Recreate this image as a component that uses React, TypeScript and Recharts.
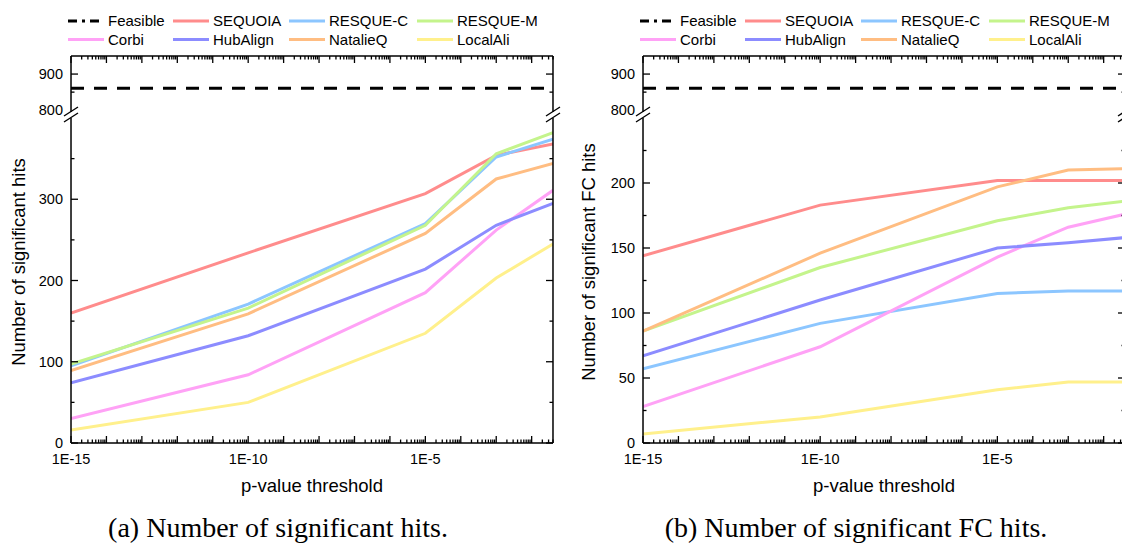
import React from 'react';
import { LineChart, Line, XAxis, YAxis, Legend } from 'recharts';

// x positions of the measurements (p-value thresholds)
const P_VALUES = [1e-15, 1e-10, 1e-5, 1e-3, 0.04];
const X_LABEL_TICKS = [1e-15, 1e-10, 1e-5];

const SERIES_NAMES = ['SEQUOIA', 'RESQUE-C', 'RESQUE-M', 'Corbi', 'HubAlign', 'NatalieQ', 'LocalAli'];
const SERIES_COLORS = ['#ff8c8c', '#8cc6ff', '#c4f48c', '#ffa2f6', '#8c8cff', '#ffbd82', '#fff08c'];

// number of feasible pairs (dashed line in the top segment)
const FEASIBLE = [861, 861, 861, 861, 861];

// (a) number of significant hits
const HITS_SEQUOIA = [160, 234, 307, 354, 368];
const HITS_RESQUE_C = [95, 171, 270, 352, 374];
const HITS_RESQUE_M = [97, 166, 268, 356, 382];
const HITS_CORBI = [30, 84, 185, 262, 311];
const HITS_HUBALIGN = [74, 132, 214, 268, 295];
const HITS_NATALIEQ = [89, 159, 258, 325, 344];
const HITS_LOCALALI = [16, 50, 135, 203, 245];

// (b) number of significant FC hits
const FC_SEQUOIA = [144, 183, 202, 202, 202];
const FC_RESQUE_C = [57, 92, 115, 117, 117];
const FC_RESQUE_M = [86, 135, 171, 181, 186];
const FC_CORBI = [28, 74, 143, 166, 176];
const FC_HUBALIGN = [67, 110, 150, 154, 158];
const FC_NATALIEQ = [86, 146, 197, 210, 211];
const FC_LOCALALI = [7, 20, 41, 47, 47];

const HITS_TICKS = [0, 100, 200, 300];
const HITS_MINOR = [50, 150, 250, 350];
const FC_TICKS = [0, 50, 100, 150, 200];
const FC_MINOR = [25, 75, 125, 175, 225];
const TOP_TICKS = [800, 900];
const TOP_MAJOR = [900];
const TOP_MINOR = [850];

const FONT = '"Liberation Sans", Arial, Helvetica, sans-serif';
const SERIF = '"Liberation Serif", "Times New Roman", serif';

// layout of one sub-figure
const PANEL_W = 572;
const PLOT_L = 71;
const PLOT_R = 553;
const TOP = 56;
const BREAK_TOP = 112;
const BREAK_BOTTOM = 118;
const BOTTOM = 443;
const X_MIN = 1e-15;
const X_MAX = 0.04;
const X_DOMAIN: [number, number] = [X_MIN, X_MAX];
const TOP_DOMAIN: [number, number] = [795, 950];
const THIN = 0.01; // axes need a non-zero size to be drawn
const MAJOR_LEN = 7;
const MINOR_LEN = 3.5;

// log ticks for the x axis: one per decade plus minor ticks
const X_ALL_TICKS: number[] = [];
for (let d = -15; d <= -2; d++) {
  for (let k = 1; k <= 9; k++) {
    const v = k * Math.pow(10, d);
    if (v < 0.0401) X_ALL_TICKS.push(v);
  }
}
const isDecade = (v: number) => Math.abs(Math.log10(v) - Math.round(Math.log10(v))) < 1e-6;

// pixel helpers for the inward tick marks (same frame as the chart margins)
const tickX = (v: number) => PLOT_L + (Math.log10(v / X_MIN) / Math.log10(X_MAX / X_MIN)) * (PLOT_R - PLOT_L);
const tickYTop = (v: number) => BREAK_TOP - ((v - TOP_DOMAIN[0]) / (TOP_DOMAIN[1] - TOP_DOMAIN[0])) * (BREAK_TOP - TOP);

const fmtP = (v: number) => v.toExponential().toUpperCase();
const noLabel = () => '';

const buildRows = (series: number[][]) =>
  P_VALUES.map((p, i) => {
    const row: Record<string, number> = { p, Feasible: FEASIBLE[i] };
    SERIES_NAMES.forEach((name, s) => {
      row[name] = series[s][i];
    });
    return row;
  });

const hitsData = buildRows([HITS_SEQUOIA, HITS_RESQUE_C, HITS_RESQUE_M, HITS_CORBI, HITS_HUBALIGN, HITS_NATALIEQ, HITS_LOCALALI]);
const fcData = buildRows([FC_SEQUOIA, FC_RESQUE_C, FC_RESQUE_M, FC_CORBI, FC_HUBALIGN, FC_NATALIEQ, FC_LOCALALI]);

const AXIS = { stroke: '#000', strokeWidth: 1.5 };
const TICK_TEXT = { fill: '#000', fontSize: 14.5, fontFamily: FONT };

const LEGEND_ITEMS = [
  { name: 'Feasible', color: '#000', dash: '9 5 3 5' },
  ...SERIES_NAMES.map((name, i) => ({ name, color: SERIES_COLORS[i], dash: undefined as string | undefined })),
];
const LEGEND_COLS = [68, 173, 289, 417];
const LEGEND_ROWS = [21, 39.5];

const LegendBlock = () => (
  <svg width={PANEL_W} height={52} style={{ display: 'block' }}>
    {LEGEND_ITEMS.map((item, i) => {
      const x = LEGEND_COLS[i % 4];
      const y = LEGEND_ROWS[Math.floor(i / 4)];
      return (
        <g key={item.name}>
          <line x1={x} x2={x + 36} y1={y} y2={y} stroke={item.color} strokeWidth={3} strokeDasharray={item.dash} />
          <text x={x + 40} y={y + 5.3} fontSize={15} fontFamily={FONT} fill="#000">
            {item.name}
          </text>
        </g>
      );
    })}
  </svg>
);

type PanelProps = {
  left: number;
  data: Record<string, number>[];
  lowerMax: number;
  lowerTicks: number[];
  lowerMinor: number[];
  yTitle: string;
  yTitleX: number;
  caption: string;
  captionX: number;
};

const Panel = ({ left, data, lowerMax, lowerTicks, lowerMinor, yTitle, yTitleX, caption, captionX }: PanelProps) => {
  const logAxis = {
    dataKey: 'p',
    type: 'number' as const,
    scale: 'log' as const,
    domain: X_DOMAIN,
    allowDataOverflow: true,
    interval: 0 as const,
    height: THIN,
  };
  const tickYLow = (v: number) => BOTTOM - (v / lowerMax) * (BOTTOM - BREAK_BOTTOM);

  // y tick marks on both sides: [pixel y, length]
  const yMarks: [number, number][] = [
    ...TOP_MAJOR.map((v) => [tickYTop(v), MAJOR_LEN] as [number, number]),
    ...TOP_MINOR.map((v) => [tickYTop(v), MINOR_LEN] as [number, number]),
    ...lowerTicks.map((v) => [tickYLow(v), MAJOR_LEN] as [number, number]),
    ...lowerMinor.map((v) => [tickYLow(v), MINOR_LEN] as [number, number]),
  ];

  const yTitleLabel = (props: any) => {
    const vb = props.viewBox || {};
    const x = yTitleX;
    const y = vb.y + vb.height / 2 - 18.5;
    return (
      <text x={x} y={y} transform={`rotate(-90, ${x}, ${y})`} textAnchor="middle" fontSize={18.5} fontFamily={FONT} fill="#000">
        {yTitle}
      </text>
    );
  };

  const xTitleLabel = (props: any) => {
    const vb = props.viewBox || {};
    return (
      <text x={vb.x + vb.width / 2} y={492} textAnchor="middle" fontSize={18.5} fontFamily={FONT} fill="#000">
        p-value threshold
      </text>
    );
  };

  return (
    <div style={{ position: 'absolute', left, top: 0, width: PANEL_W, height: 546 }}>
      {/* upper segment: feasible */}
      <div style={{ position: 'absolute', left: 0, top: 0 }}>
        <LineChart width={PANEL_W} height={124} data={data} margin={{ top: TOP, left: PLOT_L, right: PANEL_W - PLOT_R, bottom: 124 - BREAK_TOP }}>
          <XAxis xAxisId="top" orientation="top" {...logAxis} ticks={X_LABEL_TICKS} tickFormatter={noLabel} tickLine={false} axisLine={AXIS} />
          <YAxis yAxisId="y" type="number" domain={TOP_DOMAIN} allowDataOverflow width={THIN} ticks={TOP_TICKS} interval={0} tickLine={false} tick={TICK_TEXT} axisLine={AXIS} />
          <YAxis yAxisId="r" orientation="right" type="number" domain={TOP_DOMAIN} allowDataOverflow width={THIN} ticks={TOP_TICKS} tickFormatter={noLabel} tickLine={false} axisLine={AXIS} />
          <Line xAxisId="top" yAxisId="y" dataKey="Feasible" stroke="#000" strokeWidth={3} strokeDasharray="13 10" dot={false} isAnimationActive={false} />
          <Legend
            layout="horizontal"
            align="center"
            verticalAlign="middle"
            width={PANEL_W}
            height={52}
            wrapperStyle={{ left: 0, top: 0 }}
            content={() => <LegendBlock />}
          />
        </LineChart>
      </div>

      {/* lower segment: all methods */}
      <div style={{ position: 'absolute', left: 0, top: 0 }}>
        <LineChart width={PANEL_W} height={546} data={data} margin={{ top: BREAK_BOTTOM, left: PLOT_L, right: PANEL_W - PLOT_R, bottom: 546 - BOTTOM }}>
          <XAxis
            xAxisId="x"
            {...logAxis}
            ticks={X_LABEL_TICKS}
            tickFormatter={fmtP}
            tickLine={false}
            tickSize={6}
            tickMargin={5}
            tick={TICK_TEXT}
            axisLine={AXIS}
            label={xTitleLabel}
          />
          <YAxis
            yAxisId="y"
            type="number"
            domain={[0, lowerMax]}
            allowDataOverflow
            width={THIN}
            ticks={lowerTicks}
            interval={0}
            tickLine={false}
            tick={TICK_TEXT}
            axisLine={AXIS}
            label={yTitleLabel}
          />
          <YAxis yAxisId="r" orientation="right" type="number" domain={[0, lowerMax]} allowDataOverflow width={THIN} ticks={lowerTicks} tickFormatter={noLabel} tickLine={false} axisLine={AXIS} />
          {SERIES_NAMES.map((name, i) => (
            <Line
              key={name}
              xAxisId="x"
              yAxisId="y"
              dataKey={name}
              stroke={SERIES_COLORS[i]}
              strokeWidth={3}
              dot={false}
              isAnimationActive={false}
            />
          ))}
        </LineChart>
      </div>

      {/* inward tick marks, axis break marks and caption */}
      <svg width={PANEL_W} height={546} style={{ position: 'absolute', left: 0, top: 0, pointerEvents: 'none' }}>
        <g stroke="#000" strokeWidth={1.3}>
          {X_ALL_TICKS.map((v) => {
            const x = tickX(v);
            const len = isDecade(v) ? MAJOR_LEN : MINOR_LEN;
            return (
              <g key={`xt-${v}`}>
                <line x1={x} x2={x} y1={BOTTOM} y2={BOTTOM - len} />
                <line x1={x} x2={x} y1={TOP} y2={TOP + len} />
              </g>
            );
          })}
          {yMarks.map(([y, len], i) => (
            <g key={`yt-${i}`}>
              <line x1={PLOT_L} x2={PLOT_L + len} y1={y} y2={y} />
              <line x1={PLOT_R - len} x2={PLOT_R} y1={y} y2={y} />
            </g>
          ))}
        </g>
        {[PLOT_L, PLOT_R].map((ax) =>
          [BREAK_TOP - 0.5, BREAK_BOTTOM - 0.5].map((by) => (
            <line key={`${ax}-${by}`} x1={ax - 7} y1={by + 4.5} x2={ax + 7} y2={by - 4.5} stroke="#000" strokeWidth={1.4} />
          ))
        )}
        <text x={captionX} y={537} textAnchor="middle" fontSize={28} fontFamily={SERIF} fill="#000">
          {caption}
        </text>
      </svg>
    </div>
  );
};

const App = () => (
  <div style={{ position: 'absolute', left: 0, top: 0, width: 1122, height: 546, overflow: 'hidden', background: '#fff' }}>
    <Panel
      left={0}
      data={hitsData}
      lowerMax={400}
      lowerTicks={HITS_TICKS}
      lowerMinor={HITS_MINOR}
      yTitle="Number of significant hits"
      yTitleX={25}
      caption="(a) Number of significant hits."
      captionX={278}
    />
    <Panel
      left={572}
      data={fcData}
      lowerMax={250}
      lowerTicks={FC_TICKS}
      lowerMinor={FC_MINOR}
      yTitle="Number of significant FC hits"
      yTitleX={23}
      caption="(b) Number of significant FC hits."
      captionX={284}
    />
  </div>
);

export default App;
